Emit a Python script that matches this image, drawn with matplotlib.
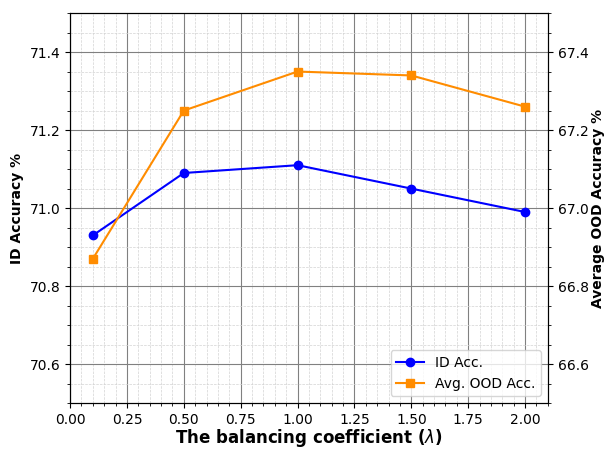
import matplotlib
matplotlib.use('Agg')
import matplotlib.pyplot as plt

lambdas = [0.1, 0.5, 1.0, 1.5, 2.0]
id_acc = [70.93, 71.09, 71.11, 71.05, 70.99]
ood_acc = [66.87, 67.25, 67.35, 67.34, 67.26]

fig, ax1 = plt.subplots(figsize=(6.04, 4.49), dpi=100)
ax2 = ax1.twinx()

l1, = ax1.plot(lambdas, id_acc, '-o', color='blue', label='ID Acc.')
l2, = ax2.plot(lambdas, ood_acc, '-s', color='darkorange', label='Avg. OOD Acc.')

ax1.set_xlim(0, 2.1)
ax1.set_ylim(70.5, 71.5)
ax2.set_ylim(66.5, 67.5)
ax1.set_yticks([70.6, 70.8, 71.0, 71.2, 71.4])
ax2.set_yticks([66.6, 66.8, 67.0, 67.2, 67.4])

ax1.set_xlabel(r'The balancing coefficient ($\lambda$)', fontsize=12, fontweight='bold', labelpad=0)
ax1.set_ylabel('ID Accuracy %', fontweight='bold')
ax2.set_ylabel('Average OOD Accuracy %', fontweight='bold', labelpad=2)

ax1.minorticks_on()
ax2.minorticks_on()
ax1.grid(True, which='major', color='gray', linewidth=0.8)
ax1.grid(True, which='minor', color='lightgray', linestyle='--', linewidth=0.5)

ax1.legend([l1, l2], ['ID Acc.', 'Avg. OOD Acc.'], loc='lower right')

plt.subplots_adjust(left=0.116, right=0.907, top=0.971, bottom=0.102)
plt.savefig('out.png')
